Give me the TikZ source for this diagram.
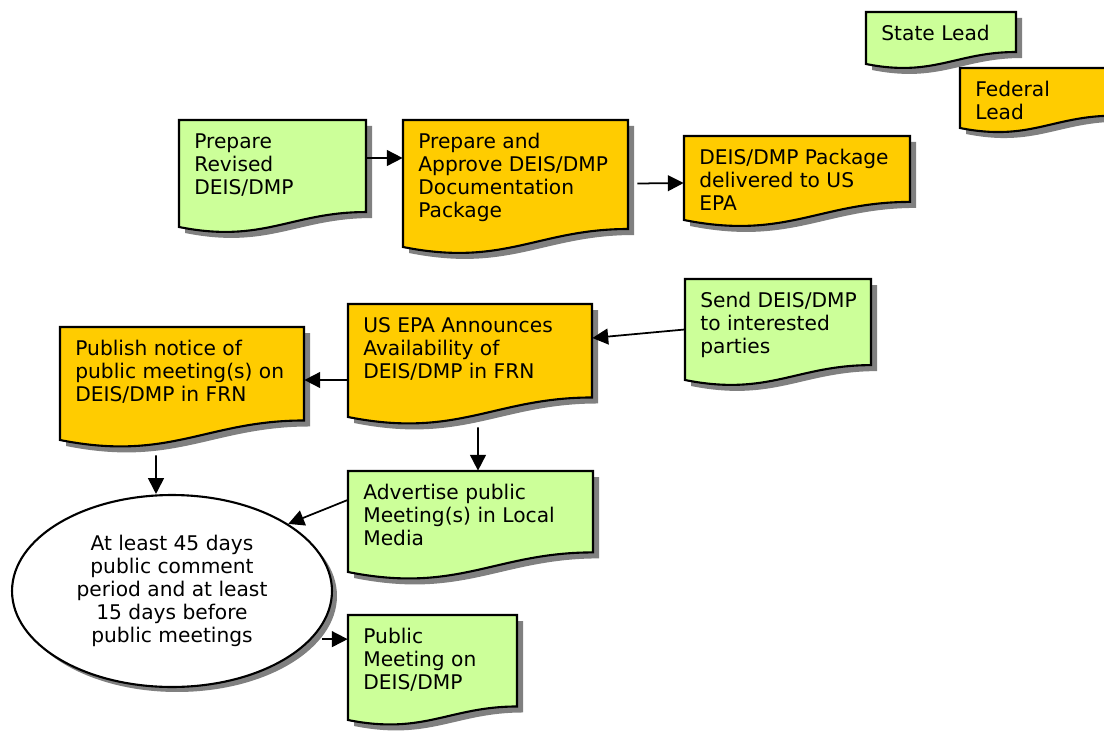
\documentclass[tikz,border=0pt]{standalone}
\usepackage{fontspec}
\setmainfont{DejaVu Sans}
\usepackage{tikz}
\usetikzlibrary{arrows.meta, positioning, fit, shapes.geometric}
\definecolor{stategreen}{HTML}{CCFF99}
\definecolor{fedorange}{HTML}{FFCC00}
\tikzset{
  docline/.style={draw=black, line width=1.2pt},
  docshadow/.style={fill=black!50},
  doctext/.style={
    inner sep=0pt, align=left, anchor=north west,
    font=\fontsize{11.5}{13.1}\selectfont
  },
  flowarrow/.style={-{Triangle[length=9pt,width=9pt]}, line width=1pt, black}
}
% document box: name, x1, y1, x2, y of lower left corner, fill, text
\newcommand{\docnode}[7]{%
  \pgfmathsetmacro{\dw}{#4-#2}
  \pgfmathsetmacro{\dr}{#5-0.08*\dw}
  \pgfmathsetmacro{\dk}{#5+0.09*\dw}
  \pgfmathsetmacro{\dca}{#2+0.45*\dw}
  \pgfmathsetmacro{\dcb}{#2+0.6*\dw}
  \fill[docshadow, shift={(6,6)}] (#2,#3) -- (#4,#3) -- (#4,\dr)
    .. controls (\dcb,\dr) and (\dca,\dk) .. (#2,#5) -- cycle;
  \filldraw[docline, fill=#6] (#2,#3) -- (#4,#3) -- (#4,\dr)
    .. controls (\dcb,\dr) and (\dca,\dk) .. (#2,#5) -- cycle;
  \node[fit={(#2,#3) (#4,#5)}, inner sep=0pt] (#1) {};
  \node[doctext] (#1-txt) at (#2+15,#3+13) {#7};
}

\begin{document}
\begin{tikzpicture}[x=0.02cm, y=-0.02cm]
    \useasboundingbox (0,0) rectangle (1104,733);

    % legend
    \docnode{state}{866}{12}{1016}{64}{stategreen}{State Lead}
    \docnode{federal}{960}{68}{1114}{128}{fedorange}{Federal\\Lead}

    % flow
    \docnode{prep}{179}{120}{366}{227}{stategreen}{Prepare\\Revised\\DEIS/DMP}
    \docnode{approve}{403}{120}{628}{247}{fedorange}{Prepare and\\Approve DEIS/DMP\\Documentation\\Package}
    \docnode{deliv}{684}{136}{910}{220}{fedorange}{DEIS/DMP Package\\delivered to US\\EPA}
    \docnode{send}{685}{279}{871}{380}{stategreen}{Send DEIS/DMP\\to interested\\parties}
    \docnode{epa}{348}{304}{592}{417}{fedorange}{US EPA Announces\\Availability of\\DEIS/DMP in FRN}
    \docnode{publish}{60}{327}{304}{440}{fedorange}{Publish notice of\\public meeting(s) on\\DEIS/DMP in FRN}
    \docnode{advert}{348}{471}{593}{572}{stategreen}{Advertise public\\Meeting(s) in Local\\Media}
    \docnode{meeting}{348}{615}{517}{720}{stategreen}{Public\\Meeting on\\DEIS/DMP}

    \node[ellipse, docshadow, minimum width=6.4cm, minimum height=3.84cm] (ell-shadow) at (177,596) {};
    \node[ellipse, docline, fill=white, minimum width=6.4cm, minimum height=3.84cm,
      inner sep=0pt, align=center, font=\fontsize{11.5}{13.1}\selectfont] (ell) at (172,591)
      {At least 45 days\\public comment\\period and at least\\15 days before\\public meetings};

    \draw[flowarrow] ([yshift=0.31cm]prep.east) -- ([yshift=0.51cm]approve.west);
    \draw[flowarrow] ([xshift=0.18cm]approve.east) -- ([yshift=-0.1cm]deliv.west);
    \draw[flowarrow] (send.west) -- ([yshift=0.45cm]epa.east);
    \draw[flowarrow] ([yshift=-0.39cm]epa.west) -- ([yshift=0.07cm]publish.east);
    \draw[flowarrow] ([xshift=0.16cm,yshift=-0.2cm]epa.south) -- ([xshift=0.15cm]advert.north);
    \draw[flowarrow] ([xshift=-0.52cm,yshift=-0.3cm]publish.south) -- ([xshift=-0.32cm]ell.north);
    \draw[flowarrow] ([yshift=0.43cm]advert.west) -- (ell.30);
    \draw[flowarrow] ([xshift=0.2cm]ell.-19) -- (ell.-19 -| meeting.west);
\end{tikzpicture}
\end{document}
